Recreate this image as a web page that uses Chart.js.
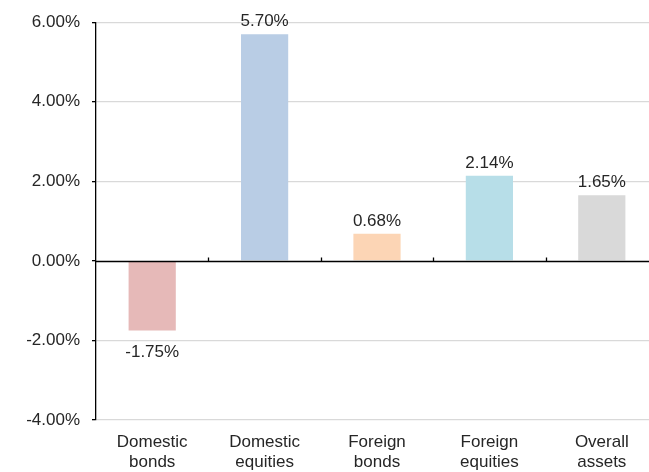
<!DOCTYPE html>
<html>
<head>
<meta charset="utf-8">
<script src="https://cdn.jsdelivr.net/npm/chart.js@4.4.0/dist/chart.umd.min.js"></script>
<style>
  html, body { margin: 0; padding: 0; background: #fff; overflow: hidden; }
  #wrap { width: 660px; height: 472px; }
</style>
</head>
<body>
<div id="wrap"><canvas id="returnsChart" width="660" height="472"></canvas></div>
<script>
// data
var categories = [['Domestic', 'bonds'], ['Domestic', 'equities'], ['Foreign', 'bonds'], ['Foreign', 'equities'], ['Overall', 'assets']];
var returns = [-1.75, 5.70, 0.68, 2.14, 1.65];
var barColors = ['#E6B9B8', '#B9CDE5', '#FCD5B5', '#B7DEE8', '#D9D9D9'];
var yTicks = [-4, -2, 0, 2, 4, 6];

var FONT = '"Liberation Sans", Arial, sans-serif';

// zero axis line with small tick marks between categories
var zeroLine = {
    id: 'zeroLine',
    afterDatasetsDraw: function (chart) {
        var c = chart.ctx, area = chart.chartArea;
        var y0 = Math.round(chart.scales.y.getPixelForValue(0)) + 0.5;
        var xs = chart.scales.x;
        c.save();
        c.strokeStyle = '#000';
        c.lineWidth = 1.3;
        c.beginPath();
        c.moveTo(area.left, y0);
        c.lineTo(area.right, y0);
        for (var i = 1; i < categories.length; i++) {
            var bx = Math.round((xs.getPixelForValue(i - 1) + xs.getPixelForValue(i)) / 2) + 0.5;
            c.moveTo(bx, y0);
            c.lineTo(bx, y0 - 4);
        }
        c.stroke();
        c.restore();
    }
};

// value labels outside bar ends
var valueLabels = {
    id: 'valueLabels',
    afterDatasetsDraw: function (chart) {
        var c = chart.ctx;
        var meta = chart.getDatasetMeta(0);
        c.save();
        c.font = '17px ' + FONT;
        c.fillStyle = '#262626';
        c.textAlign = 'center';
        meta.data.forEach(function (bar, i) {
            var v = returns[i];
            var txt = v.toFixed(2) + '%';
            if (v >= 0) {
                c.textBaseline = 'alphabetic';
                c.fillText(txt, bar.x, bar.y - 8);
            } else {
                c.textBaseline = 'top';
                c.fillText(txt, bar.x, bar.y + 13);
            }
        });
        c.restore();
    }
};

new Chart(document.getElementById('returnsChart').getContext('2d'), {
    type: 'bar',
    data: {
        labels: categories,
        datasets: [{
            data: returns,
            backgroundColor: barColors,
            borderWidth: 0,
            categoryPercentage: 1,
            barPercentage: 0.42
        }]
    },
    options: {
        responsive: false,
        animation: false,
        layout: { padding: { top: 19, right: 2, left: 0, bottom: 0 } },
        plugins: {
            legend: { display: false },
            tooltip: { enabled: false }
        },
        scales: {
            x: {
                grid: { display: false, drawTicks: false },
                border: { display: false },
                ticks: {
                    color: '#262626',
                    font: { family: FONT, size: 17 },
                    padding: 12,
                    maxRotation: 0
                },
                afterFit: function (scale) { scale.height = 52; }
            },
            y: {
                min: -4,
                max: 6,
                afterBuildTicks: function (scale) {
                    scale.ticks = yTicks.map(function (v) { return { value: v }; });
                },
                grid: {
                    color: function (ctx) { return ctx.tick && ctx.tick.value === 0 ? 'rgba(0,0,0,0)' : '#D9D9D9'; },
                    lineWidth: 1.3,
                    tickColor: '#000',
                    tickLength: 4
                },
                border: { display: true, color: '#000', width: 1.3 },
                ticks: {
                    color: '#262626',
                    font: { family: FONT, size: 17 },
                    padding: 12,
                    callback: function (v) { return v.toFixed(2) + '%'; }
                },
                afterFit: function (scale) { scale.width = 96; }
            }
        }
    },
    plugins: [zeroLine, valueLabels]
});
</script>
</body>
</html>
